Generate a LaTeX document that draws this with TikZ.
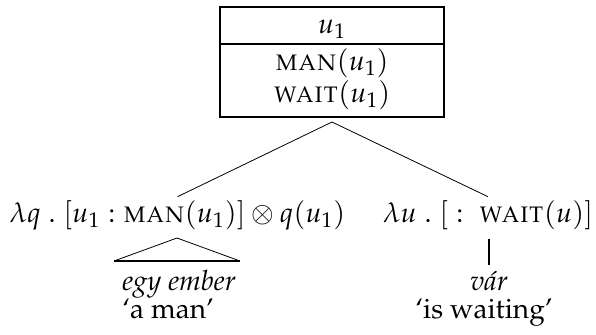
\documentclass[tikz,border=0pt]{standalone}
\usepackage[T1]{fontenc}
\usepackage{mathpazo}
\tikzset{
  thinline/.style={line width=0.4pt},
  thickline/.style={line width=1pt},
  txt/.style={inner sep=0pt},
  expr/.style={inner sep=1.5pt},
}
\begin{document}
\begin{tikzpicture}[x=0.5pt,y=-0.5pt,font=\fontsize{14}{17}\selectfont]
\useasboundingbox (0,0) rectangle (596,334);
% DRS box
\node[draw, thickline, minimum width=112pt, minimum height=55pt, inner sep=0pt] (drs) at (332,62) {};
\coordinate (sepy) at (0,44);
\draw[thickline] (drs.west |- sepy) -- (drs.east |- sepy);
\node[txt, anchor=base] (univ) at (332,33) {$u_1$};
\node[txt, anchor=base] (cman) at (332,70) {$\textsc{man}(u_1)$};
\node[txt, anchor=base] (cwait) at (332,102) {$\textsc{wait}(u_1)$};
% daughters
\node[expr, anchor=base] (L) at (177.5,222) {$\lambda q\;.\;[u_1 : \textsc{man}(u_1)] \otimes q(u_1)$};
\node[expr, anchor=base] (R) at (488,222) {$\lambda u\;.\;[\;:\;\textsc{wait}(u)]$};
\coordinate (apex) at (332,122);
\draw[thinline] (apex) -- (L.north);
\draw[thinline] (apex) -- (R.north);
% triangle under left
\coordinate (tA) at (177,238);
\coordinate (tL) at (114,261);
\coordinate (tR) at (240,261);
\draw[thinline] (tL) -- (tA) -- (tR);
\draw[thickline] (tL) -- (tR);
\node[txt, anchor=base west] (eg) at (122,290) {\textit{egy ember}};
\node[txt, anchor=base west] (am) at (122,318) {`a man'};
% vertical under right
\coordinate (vt) at (489,239);
\coordinate (vb) at (489,265);
\draw[thickline] (vt) -- (vb);
\node[txt, anchor=base] (var) at (489,290) {\textit{v\'ar}};
\node[txt, anchor=base west] (iw) at (415,318) {`is waiting'};
\end{tikzpicture}
\end{document}
